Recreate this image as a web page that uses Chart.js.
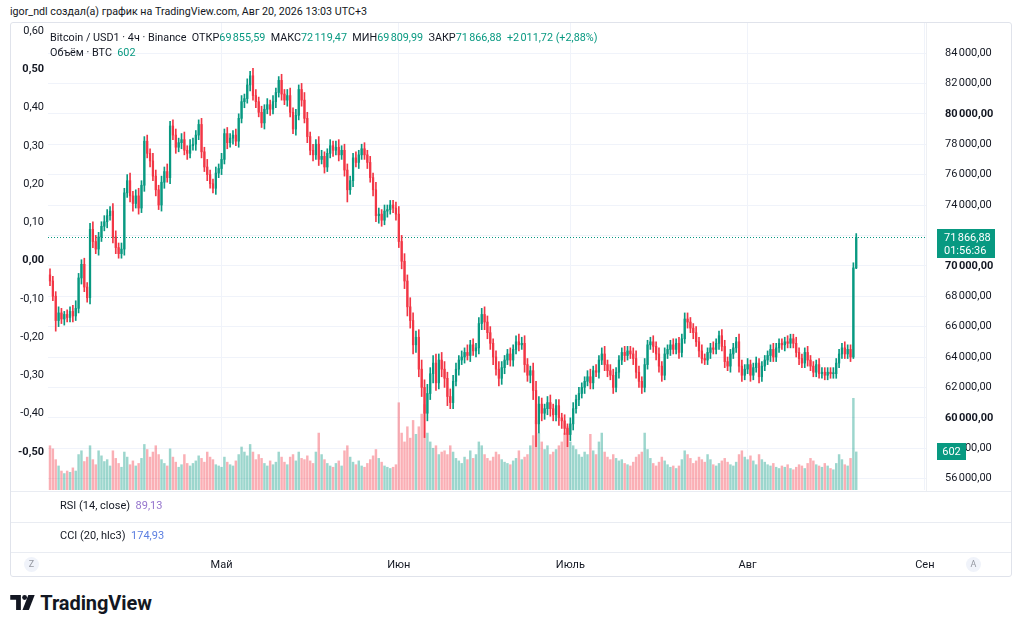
<!DOCTYPE html>
<html lang="ru">
<head>
<meta charset="utf-8">
<title>Bitcoin / USD1 · 4ч · Binance</title>
<script src="https://cdn.jsdelivr.net/npm/chart.js@4.4.1/dist/chart.umd.min.js"></script>
<style>
  html, body { margin:0; padding:0; background:#fff; }
  body { width:1020px; height:630px; position:relative; overflow:hidden;
         font-family: Roboto, "Liberation Sans", sans-serif; color:#131722; }
  .abs { position:absolute; white-space:nowrap; }
  #hdr { left:10px; top:5px; font-size:10.7px; }
  #box { left:10px; top:22px; width:1002px; height:555px; }
  #frame { left:10px; top:22px; width:1002px; height:555px; border:1px solid #e0e3eb;
           box-sizing:border-box; border-radius:3px; pointer-events:none; }
  .sep { left:11px; width:1000px; height:1px; background:#e9ecf2; }
  .lg { font-size:10.8px; left:50px; }
  .g { color:#089981; }
  .pane { font-size:11px; left:60px; }
  .circ { width:15px; height:15px; border-radius:50%; background:#f0f3fa; color:#9598a1;
          font-size:9px; text-align:center; line-height:15px; }
  #logo { left:10px; top:591px; font-size:20px; font-weight:700; letter-spacing:-0.1px; }
</style>
</head>
<body>
<div id="hdr" class="abs">igor_ndl создал(а) график на TradingView.com, Авг 20, 2026 13:03 UTC+3</div>
<div id="box" class="abs"><canvas id="c" width="1002" height="555"></canvas></div>
<div id="frame" class="abs"></div>
<div class="abs sep" style="top:491px"></div>
<div class="abs sep" style="top:522px"></div>
<div class="abs sep" style="top:552px"></div>

<div class="abs lg" style="top:31px">Bitcoin / USD1 · 4ч · Binance&nbsp; ОТКР<span class="g">69&#8239;855,59</span>&nbsp; МАКС<span class="g">72&#8239;119,47</span>&nbsp; МИН<span class="g">69&#8239;809,99</span>&nbsp; ЗАКР<span class="g">71&#8239;866,88</span>&nbsp; <span class="g">+2&#8239;011,72 (+2,88%)</span></div>
<div class="abs lg" style="top:46px">Объём · BTC&nbsp; <span class="g">602</span></div>

<div class="abs pane" style="top:499px">RSI (14, close)&nbsp; <span style="color:#9575cd">89,13</span></div>
<div class="abs pane" style="top:529px">CCI (20, hlc3)&nbsp; <span style="color:#5c7fe0">174,93</span></div>

<div class="abs circ" style="left:24px;top:557px">Z</div>
<div class="abs circ" style="left:966px;top:557px">A</div>

<div id="logo" class="abs">
  <svg width="26" height="17" viewBox="0 0 24 16" style="vertical-align:-1px">
    <path d="M0 1 H10 V15 H5.5 V5.5 H0 Z" fill="#131722"/>
    <circle cx="13.5" cy="3.3" r="2.3" fill="#131722"/>
    <path d="M17 1 H23 L17.5 15 H11.5 Z" fill="#131722"/>
  </svg> TradingView
</div>

<script>
// 12h candles from Apr 1, prices in thousands of USD1
const candleStepDays = 0.5;
const openFirst = 69.4;
const closeK = [
  69.0, 68.0, 66.4, 66.9, 66.5, 66.8, 66.6, 67.0, 66.7, 67.2,
  69.2, 70.1, 68.6, 67.9, 72.4, 71.6, 71.1, 71.9, 72.6, 72.9,
  73.3, 73.6, 71.9, 71.2, 70.8, 71.1, 74.8, 75.6, 74.6, 74.1,
  74.6, 73.8, 75.3, 78.2, 77.4, 76.9, 75.9, 75.0, 74.0, 75.5,
  76.2, 75.8, 79.2, 78.6, 77.8, 78.1, 78.3, 77.6, 77.4, 77.9,
  78.0, 78.6, 79.3, 77.5, 76.5, 76.0, 75.4, 75.1, 76.1, 76.4,
  77.0, 78.7, 78.1, 78.4, 78.6, 78.2, 79.7, 80.8, 81.0, 81.9,
  82.5, 81.2, 80.8, 80.1, 79.4, 80.3, 80.6, 80.3, 80.8, 81.4,
  82.2, 81.3, 80.9, 81.2, 80.1, 79.0, 79.9, 81.6, 80.9, 79.7,
  78.5, 77.6, 77.3, 78.0, 77.0, 77.2, 76.5, 77.4, 77.9, 77.6,
  77.8, 77.3, 77.6, 76.3, 75.0, 75.6, 77.1, 76.8, 77.3, 77.7,
  77.3, 76.8, 75.8, 75.0, 73.3, 73.4, 73.0, 73.6, 73.7, 74.0,
  73.8, 73.4, 71.6, 70.3, 69.0, 67.3, 66.4, 64.8, 65.3, 63.2,
  62.0, 60.3, 61.6, 62.9, 63.6, 62.3, 63.8, 63.2, 62.6, 61.4,
  61.0, 62.4, 63.2, 63.8, 64.0, 64.3, 64.1, 64.8, 64.4, 64.6,
  66.2, 66.8, 66.3, 65.6, 64.9, 64.0, 63.2, 62.6, 63.3, 63.8,
  64.2, 63.8, 64.5, 65.0, 64.8, 64.9, 63.5, 62.8, 63.1, 61.8,
  59.6, 60.9, 60.3, 60.6, 61.0, 60.6, 60.2, 60.8, 60.0, 59.8,
  59.3, 58.9, 59.6, 60.6, 61.2, 61.6, 62.0, 62.4, 62.7, 62.3,
  63.1, 63.0, 63.8, 64.2, 63.5, 63.1, 62.8, 62.0, 63.0, 63.8,
  64.3, 64.1, 64.4, 64.2, 63.9, 63.0, 62.4, 62.0, 63.5, 64.8,
  65.0, 64.7, 64.2, 63.4, 62.8, 64.2, 64.5, 64.8, 64.5, 64.9,
  64.3, 65.2, 66.5, 66.3, 65.9, 65.6, 65.0, 64.4, 63.9, 63.8,
  64.3, 64.6, 64.5, 64.9, 65.4, 64.7, 63.7, 63.4, 64.2, 64.6,
  65.0, 63.4, 62.8, 63.2, 63.5, 62.8, 63.3, 63.6, 62.7, 63.4,
  63.8, 64.1, 64.5, 64.0, 64.6, 64.9, 64.8, 65.0, 64.9, 65.2,
  64.9, 64.3, 63.9, 63.6, 64.3, 63.8, 63.4, 63.0, 63.5, 62.9,
  63.0, 62.8, 63.0, 62.9, 62.9, 63.6, 64.2, 64.6, 64.2, 64.5,
  64.0, 69.86, 71.86688
];
// wick length above / below the body, thousands
const upWick = [
  .4,.3,.3,.4,.3,.2,.3,.3,.4,.5,  .3,.3,.4,.3,.4,.5,.4,.3,.3,.4,
  .4,.3,.5,.4,.3,.4,.3,.4,.5,.3,  .4,.5,.3,.3,.4,.3,.5,.4,.3,.4,
  .3,.5,.3,.4,.4,.3,.4,.5,.3,.4,  .4,.3,.3,.4,.3,.5,.3,.3,.4,.3,
  .4,.3,.4,.3,.3,.4,.3,.4,.3,.4,  .3,.5,.4,.3,.4,.3,.4,.3,.4,.3,
  .25,.4,.3,.4,.5,.3,.4,.3,.4,.5, .4,.3,.4,.3,.5,.4,.3,.3,.4,.3,
  .4,.5,.3,.4,.4,.3,.3,.4,.3,.3,  .4,.3,.4,.3,.5,.4,.3,.4,.3,.3,
  .3,.4,.5,.4,.5,.4,.6,.5,.4,.5,  .6,.5,.6,.4,.5,.6,.4,.5,.5,.4,
  .5,.4,.4,.3,.4,.3,.5,.3,.4,.3,  .4,.4,.5,.4,.4,.3,.4,.5,.4,.3,
  .3,.4,.3,.4,.5,.4,.5,.4,.3,.5,  .6,.5,.4,.3,.4,.5,.3,.4,.4,.3,
  .4,.3,.4,.4,.3,.4,.3,.3,.4,.5,  .3,.4,.3,.4,.5,.3,.4,.4,.3,.3,
  .3,.4,.3,.3,.4,.5,.4,.3,.4,.3,  .3,.4,.3,.4,.3,.4,.3,.3,.4,.3,
  .4,.3,.4,.4,.3,.3,.4,.3,.4,.3,  .3,.3,.4,.3,.3,.4,.4,.3,.3,.3,
  .3,.5,.4,.3,.4,.3,.3,.4,.3,.3,  .3,.3,.3,.4,.3,.3,.3,.3,.4,.3,
  .3,.4,.3,.3,.3,.4,.3,.3,.3,.4,  .3,.3,.3,.3,.4,.3,.3,.3,.4,.3,
  .3,.34,.25259
];
const downWick = [
  .3,.3,.7,.4,.3,.4,.3,.3,.4,.3,  .3,.4,.3,.3,.4,.4,.3,.4,.3,.3,
  .4,.3,.4,.4,.3,.3,.4,.3,.4,.5,  .3,.4,.3,.4,.3,.4,.3,.4,.3,.4,
  .4,.3,.4,.3,.4,.3,.4,.3,.4,.3,  .3,.4,.3,.4,.3,.4,.3,.3,.4,.3,
  .4,.3,.4,.3,.4,.3,.4,.3,.4,.3,  .4,.3,.4,.3,.3,.4,.3,.4,.3,.4,
  .3,.4,.3,.4,.3,.3,.4,.3,.4,.3,  .4,.3,.4,.3,.4,.3,.4,.3,.3,.4,
  .3,.4,.3,.4,.8,.3,.4,.3,.4,.3,  .3,.4,.3,.4,.4,.5,.4,.3,.4,.3,
  .3,.4,.4,.5,.5,.6,.5,.6,.5,.5,  .6,1.6,.5,.4,.6,.5,.4,.5,.6,.6,
  .4,.4,.3,.4,.3,.4,.3,.4,.3,.4,  .4,.4,.5,.4,.4,.5,.4,.5,.4,.4,
  .3,.4,.4,.3,.4,.3,.5,.4,.5,.6,  1.5,.6,.5,.4,.4,.5,.4,.4,.5,.5,
  .4,.8,.4,.4,.3,.4,.3,.4,.3,.4,  .4,.3,.4,.3,.4,.4,.3,.4,.3,.4,
  .3,.4,.3,.3,.4,.4,.4,.4,.3,.3,  .3,.4,.4,.4,.4,.3,.3,.4,.3,.3,
  .4,.3,.3,.4,.3,.4,.3,.4,.3,.3,  .3,.4,.3,.3,.4,.3,.4,.3,.4,.3,
  .3,.4,.4,.3,.3,.4,.3,.3,.4,.3,  .3,.3,.4,.3,.3,.3,.3,.4,.3,.3,
  .3,.3,.4,.3,.3,.4,.3,.3,.3,.3,  .3,.3,.3,.3,.3,.3,.3,.3,.3,.3,
  .3,.1,.05
];
// volume, BTC
const volBtc = [
  700,650,480,380,300,260,300,280,350,300,   560,620,450,520,700,480,400,620,540,450,
  480,380,620,500,420,360,600,520,400,460,   380,420,500,720,640,520,600,700,560,480,
  420,380,650,520,440,360,400,560,420,380,   420,460,540,500,440,600,520,480,400,380,
  360,520,440,400,380,460,560,680,600,540,   720,600,480,560,500,420,380,460,400,440,
  600,520,440,400,520,560,460,600,500,480,   540,460,420,600,900,560,480,420,380,360,
  420,460,380,620,700,520,440,400,460,380,   360,420,480,540,640,500,440,380,360,340,
  360,400,1380,900,760,1000,820,1100,880,1000, 1200,1350,900,760,660,700,560,600,620,560,
  700,600,500,460,420,520,480,620,500,560,   760,700,560,500,460,520,600,560,480,440,
  420,400,460,500,620,480,520,560,700,860,   1100,900,760,640,700,560,600,640,700,760,
  900,1000,760,700,640,560,520,600,560,880,  620,560,760,900,600,520,480,560,500,460,
  480,420,400,380,440,520,560,600,900,640,   500,420,380,440,520,460,400,360,380,340,
  380,480,620,560,500,420,460,520,480,440,   560,480,400,380,420,460,500,440,400,380,
  440,560,620,520,480,540,460,400,560,480,   440,400,380,420,360,340,380,360,400,340,
  320,360,400,380,340,420,500,460,400,380,   360,420,380,340,320,420,560,480,400,380,
  500,1450,602
];
// time axis: days from Apr 1
const monthDays = [30, 61, 91, 122, 153];
const monthNames = ["Май", "Июн", "Июль", "Авг", "Сен"];
const priceTicksK = [56, 58, 60, 62, 64, 66, 68, 70, 72, 74, 76, 78, 80, 82, 84];
const boldPriceK = [60, 70, 80];
const leftTicks = [-0.5, -0.4, -0.3, -0.2, -0.1, 0, 0.1, 0.2, 0.3, 0.4, 0.5, 0.6];
const boldLeft = [-0.5, 0, 0.5];
const countdown = "01:56:36";

const UP = "#089981", DOWN = "#f23645";
const UP_V = "rgba(8,153,129,0.4)", DOWN_V = "rgba(242,54,69,0.4)";
const FONT = "Roboto, 'Liberation Sans', sans-serif";

const opens = closeK.map((c, i) => i === 0 ? openFirst : closeK[i - 1]);
const days = closeK.map((c, i) => i * candleStepDays);
const isUp = closeK.map((c, i) => c >= opens[i]);

const bodies = closeK.map((c, i) => ({ x: days[i], y: [opens[i], c] }));
const wicks = closeK.map((c, i) => ({
  x: days[i],
  y: [Math.min(opens[i], c) - downWick[i], Math.max(opens[i], c) + upWick[i]]
}));
const vols = volBtc.map((v, i) => ({ x: days[i], y: v }));

const groupNum = (n) => String(n).replace(/\B(?=(\d{3})+(?!\d))/g, "\u202F");
const fmtPrice = (k) => {
  const cents = Math.round(k * 100000);
  const whole = Math.floor(cents / 100), frac = String(cents % 100).padStart(2, "0");
  return groupNum(whole) + "," + frac;
};
const fmtLeft = (v) => (Math.abs(v) < 1e-9 ? 0 : v).toFixed(2).replace(".", ",");

// tick padding is only used to place labels, not to shrink the plot
const noPad = (s) => { s.paddingTop = 0; s.paddingBottom = 0; s.paddingLeft = 0; s.paddingRight = 0; };

// last price line and axis tags
const tagPlugin = {
  id: "tags",
  beforeDatasetsDraw(chart) {
    const { ctx, chartArea: a, scales } = chart;
    const last = closeK[closeK.length - 1];
    const py = Math.round(scales.y.getPixelForValue(last)) + 0.5;
    ctx.save();
    ctx.strokeStyle = UP;
    ctx.lineWidth = 1;
    ctx.setLineDash([1, 2]);
    ctx.beginPath();
    ctx.moveTo(a.left, py);
    ctx.lineTo(a.right, py);
    ctx.stroke();
    ctx.restore();
  },
  afterDraw(chart) {
    const { ctx, chartArea: a, scales } = chart;
    const last = closeK[closeK.length - 1];
    const lastVol = volBtc[volBtc.length - 1];
    const py = scales.y.getPixelForValue(last);
    const vy = scales.yv.getPixelForValue(lastVol);
    ctx.save();
    ctx.fillStyle = UP;
    ctx.fillRect(a.right + 11, Math.round(py - 8), 58, 29);
    ctx.fillRect(a.right + 11, Math.round(vy - 9), 29, 17);
    ctx.fillStyle = "#fff";
    ctx.font = "11px " + FONT;
    ctx.textBaseline = "middle";
    ctx.textAlign = "left";
    ctx.fillText(fmtPrice(last), a.right + 18, py + 0.5);
    ctx.fillText(countdown, a.right + 18, py + 13.5);
    ctx.textAlign = "center";
    ctx.fillText(String(lastVol), a.right + 25.5, vy);
    ctx.restore();
  }
};

new Chart(document.getElementById("c"), {
  type: "bar",
  data: {
    datasets: [
      { data: bodies, yAxisID: "y", order: 1, grouped: false, barThickness: 1.6, minBarLength: 1,
        borderWidth: 0, backgroundColor: isUp.map(u => u ? UP : DOWN) },
      { data: wicks, yAxisID: "y", order: 2, grouped: false, barThickness: 1,
        borderWidth: 0, backgroundColor: isUp.map(u => u ? UP : DOWN) },
      { data: vols, yAxisID: "yv", order: 3, grouped: false, barThickness: 1.8,
        borderWidth: 0, backgroundColor: isUp.map(u => u ? UP_V : DOWN_V) }
    ]
  },
  options: {
    responsive: false,
    animation: false,
    layout: { padding: 0 },
    plugins: { legend: { display: false }, tooltip: { enabled: false } },
    scales: {
      x: {
        type: "linear", min: -0.35, max: 153.2, offset: false,
        grid: { color: "#f0f3fa", drawTicks: false, offset: false },
        border: { display: false },
        ticks: {
          padding: 69, autoSkip: false, maxRotation: 0, color: "#131722",
          font: { family: FONT, size: 11 },
          callback: (v) => monthNames[monthDays.indexOf(v)] || ""
        },
        afterBuildTicks: (s) => { s.ticks = monthDays.map(v => ({ value: v })); },
        afterFit: (s) => { s.height = 87; noPad(s); }
      },
      y: {
        position: "right", min: 55.25, max: 86.04,
        grid: { color: "#f0f3fa", drawTicks: false },
        border: { display: true, color: "#eef0f4" },
        ticks: {
          padding: 19, autoSkip: false, color: "#131722",
          font: (c) => ({ family: FONT, size: 11,
            weight: c.tick && boldPriceK.includes(c.tick.value) ? "bold" : "normal" }),
          callback: (v) => fmtPrice(v)
        },
        afterBuildTicks: (s) => { s.ticks = priceTicksK.map(v => ({ value: v })); },
        afterFit: (s) => { s.width = 86; noPad(s); }
      },
      yl: {
        position: "left", min: -0.5993, max: 0.6235,
        grid: { display: false, drawTicks: false },
        border: { display: false },
        ticks: {
          padding: 4, autoSkip: false, color: "#131722",
          font: (c) => ({ family: FONT, size: 11,
            weight: c.tick && boldLeft.includes(c.tick.value) ? "bold" : "normal" }),
          callback: (v) => fmtLeft(v)
        },
        afterBuildTicks: (s) => { s.ticks = leftTicks.map(v => ({ value: v })); },
        afterFit: (s) => { s.width = 38; noPad(s); }
      },
      yv: { display: false, min: 0, max: 7400 }
    }
  },
  plugins: [tagPlugin]
});
</script>
</body>
</html>
